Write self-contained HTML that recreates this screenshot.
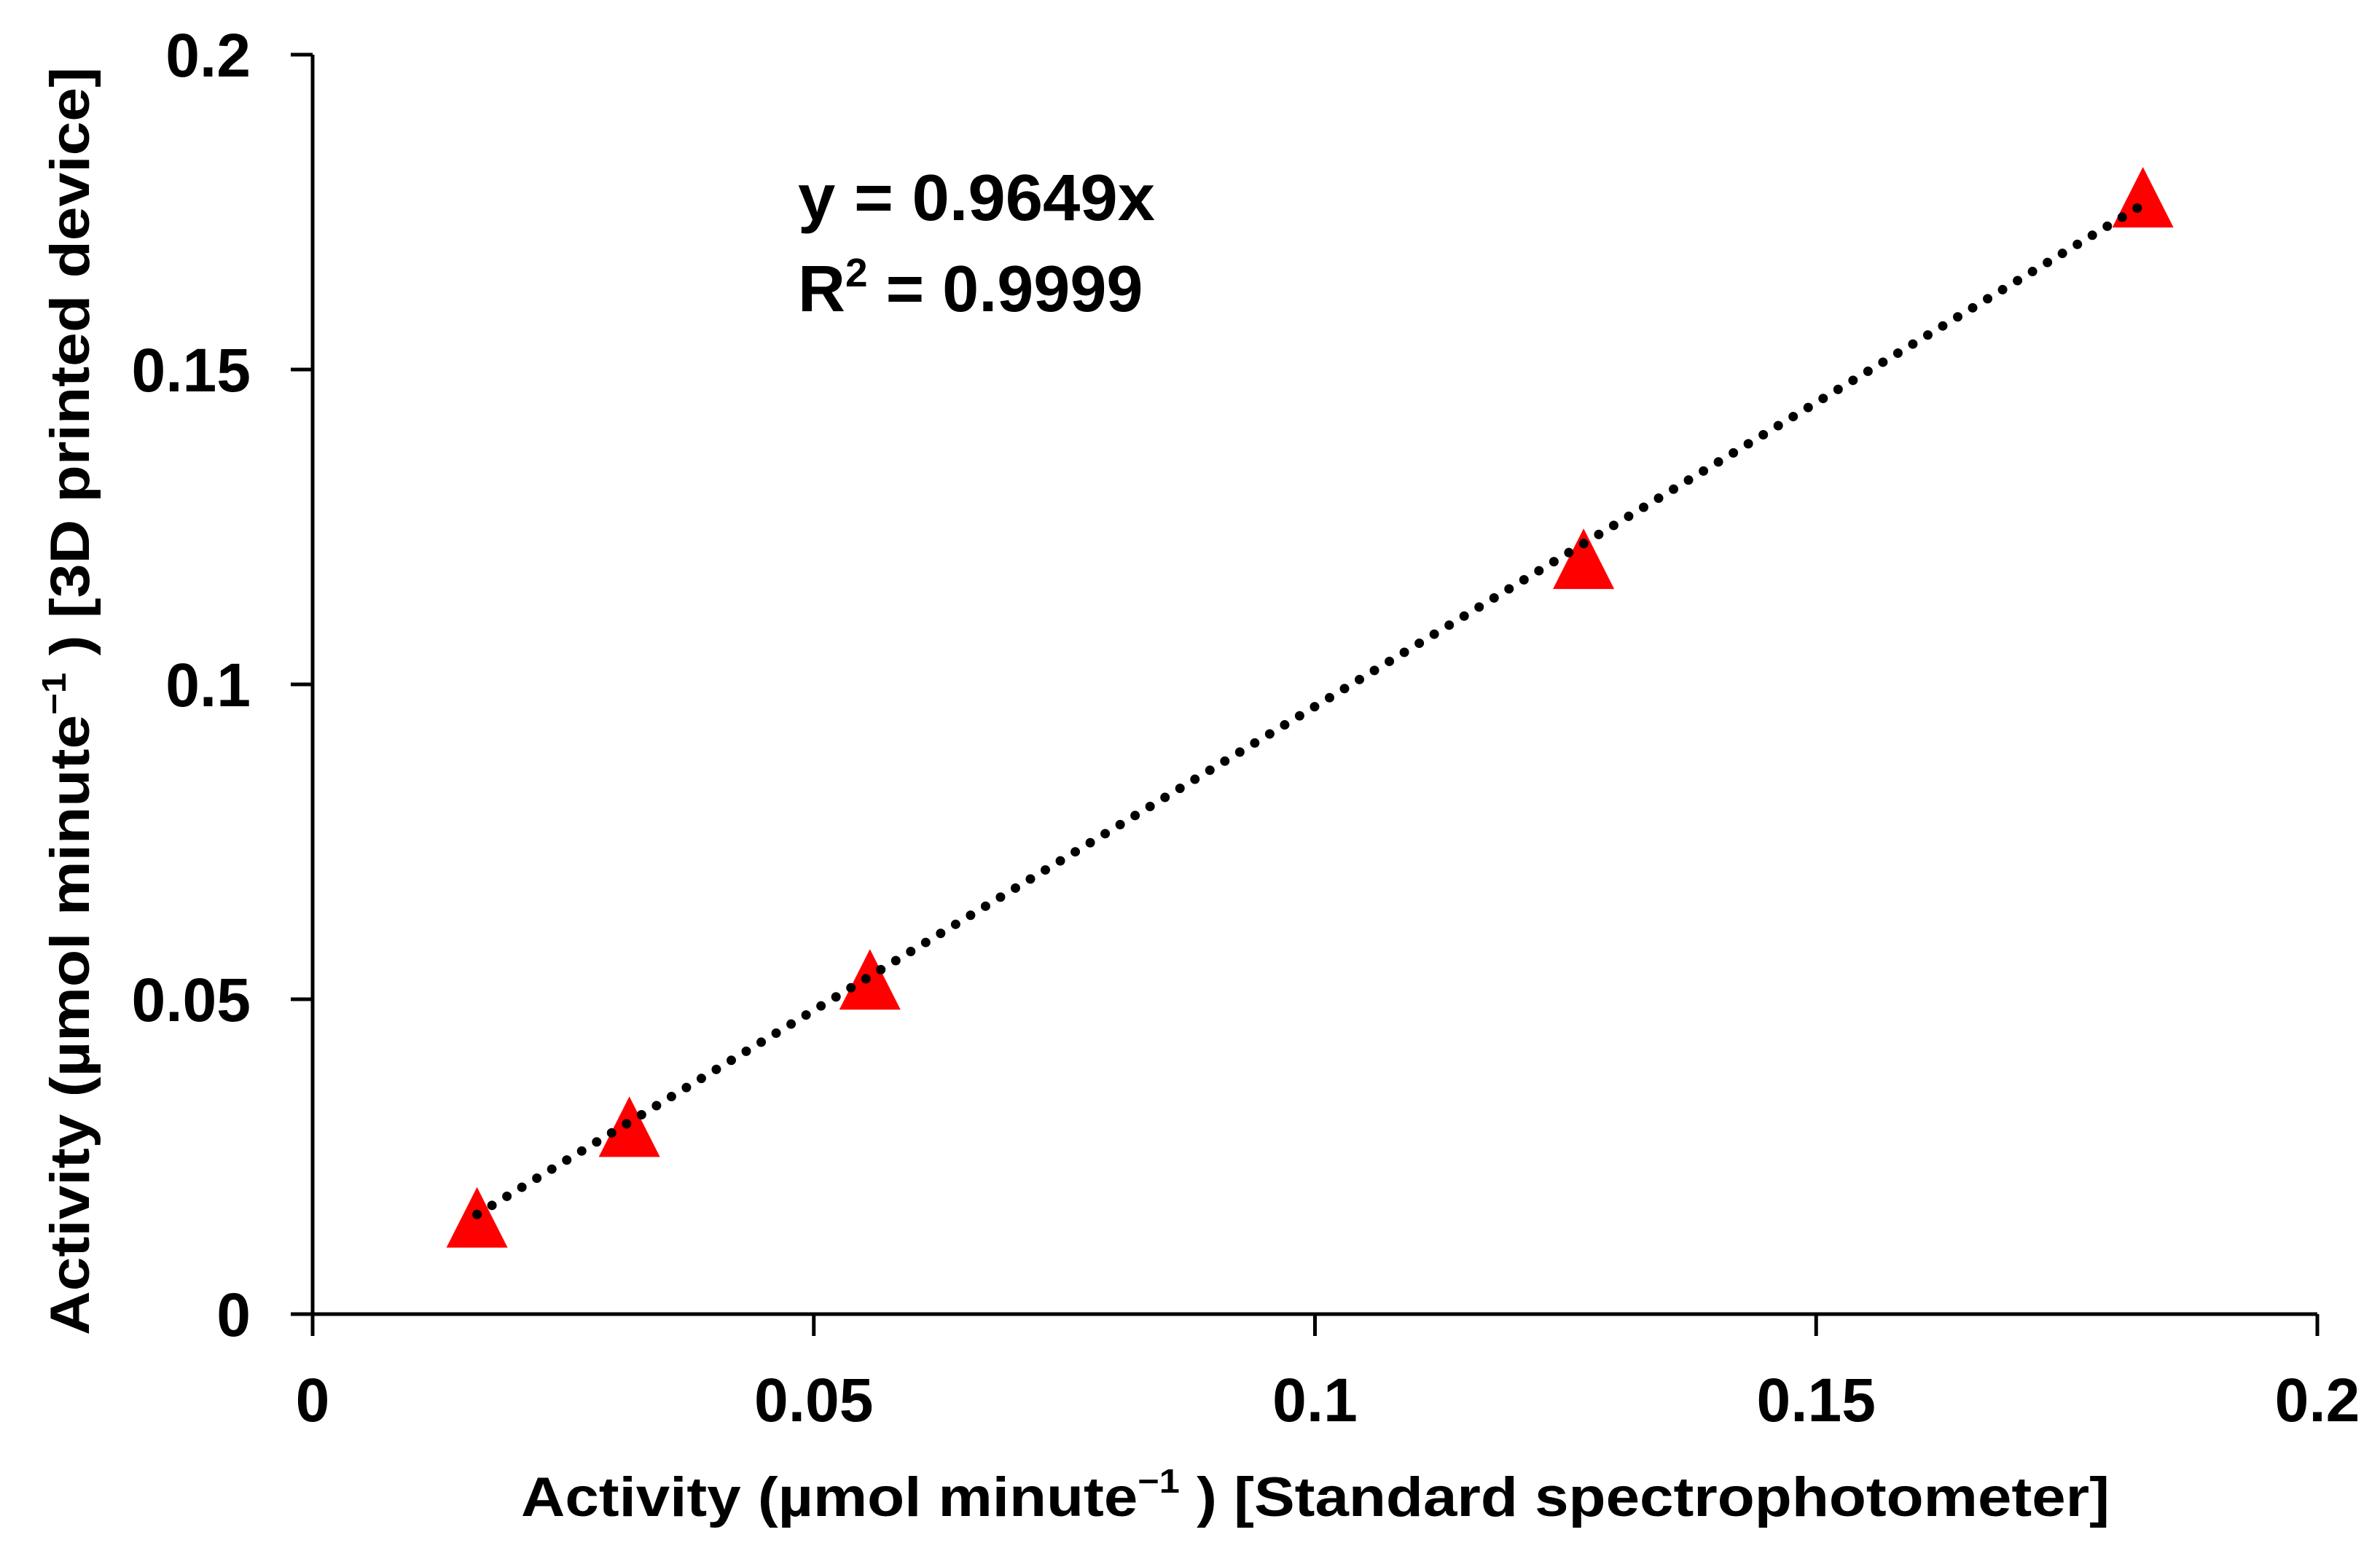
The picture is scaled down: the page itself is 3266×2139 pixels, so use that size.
<!DOCTYPE html>
<html><head><meta charset="utf-8"><style>
html,body{margin:0;padding:0;background:#fff;}
svg{display:block;}
text{font-family:"Liberation Sans",sans-serif;font-weight:bold;fill:#000;}
</style></head><body>
<svg id="chart" width="3266" height="2139" viewBox="0 0 3266 2139">
<g id="axes"></g>
<g id="trend"></g>
<g id="points"></g>
<text x="1095" y="302" font-size="90" textLength="490" lengthAdjust="spacingAndGlyphs">y = 0.9649x</text>
<text x="1095" y="427" font-size="90">R<tspan font-size="55" dy="-34">2</tspan><tspan dy="34"> = 0.9999</tspan></text>
<text x="1805" y="2080" font-size="76" text-anchor="middle" textLength="2180" lengthAdjust="spacingAndGlyphs">Activity (µmol minute<tspan font-size="46" dy="-32">−1</tspan><tspan dy="32"> ) [Standard spectrophotometer]</tspan></text>
<text transform="translate(122,962) rotate(-90)" font-size="76" text-anchor="middle" textLength="1740" lengthAdjust="spacingAndGlyphs">Activity (µmol minute<tspan font-size="46" dy="-32">−1</tspan><tspan dy="32"> ) [3D printed device]</tspan></text>
</svg>
<script>
const xTicks = [0, 0.05, 0.1, 0.15, 0.2];
const yTicks = [0, 0.05, 0.1, 0.15, 0.2];
const xTickLabels = ["0", "0.05", "0.1", "0.15", "0.2"];
const yTickLabels = ["0", "0.05", "0.1", "0.15", "0.2"];
const xValues = [0.0164, 0.0316, 0.0556, 0.1268, 0.1826];
const yValues = [0.0153, 0.0297, 0.0531, 0.1199, 0.1773];
const slope = [0.9649];

const X0 = 429, X1 = 3180, Y0 = 1803, Y1 = 75;
const sx = v => X0 + (v - 0) / 0.2 * (X1 - X0);
const sy = v => Y0 - (v - 0) / 0.2 * (Y0 - Y1);
const NS = "http://www.w3.org/2000/svg";
function mk(tag, attrs, parent) {
  const e = document.createElementNS(NS, tag);
  for (const k in attrs) e.setAttribute(k, attrs[k]);
  parent.appendChild(e);
  return e;
}
const axes = document.getElementById('axes');
let a = mk('line', {x1: X0, y1: Y0, x2: X1, y2: Y0, stroke: '#000', 'stroke-width': 5}, axes);


a = mk('line', {x1: X0, y1: Y0, x2: X0, y2: Y1, stroke: '#000', 'stroke-width': 5}, axes);


xTicks.forEach((v, i) => {
  const t = mk('line', {x1: sx(v), y1: Y0, x2: sx(v), y2: Y0 + 30, stroke: '#000', 'stroke-width': 5}, axes);
  
  
  const l = mk('text', {x: sx(v), y: 1950, 'font-size': 84, 'text-anchor': 'middle'}, axes);
  l.textContent = xTickLabels[i];
  
  
});
yTicks.forEach((v, i) => {
  const t = mk('line', {x1: X0 - 30, y1: sy(v), x2: X0, y2: sy(v), stroke: '#000', 'stroke-width': 5}, axes);
  
  
  const l = mk('text', {x: 344, y: sy(v) + 30, 'font-size': 84, 'text-anchor': 'end'}, axes);
  l.textContent = yTickLabels[i];
  
  
});
const trend = document.getElementById('trend');
const xmin = Math.min(...xValues), xmax = Math.max(...xValues);
const tl = mk('line', {x1: sx(xmin), y1: sy(xmin * slope[0]), x2: sx(xmax), y2: sy(xmax * slope[0]),
  stroke: '#000', 'stroke-width': 13, 'stroke-linecap': 'round', 'stroke-dasharray': '0 24'}, trend);


const pts = document.getElementById('points');
xValues.forEach((v, i) => {
  const cx = sx(v), cy = sy(yValues[i]);
  const p = mk('polygon', {points: `${cx},${cy - 42} ${cx - 42},${cy + 41} ${cx + 42},${cy + 41}`, fill: '#ff0000'}, pts);
  
  
});
document.getElementById('chart').appendChild(trend);
</script>
</body></html>
